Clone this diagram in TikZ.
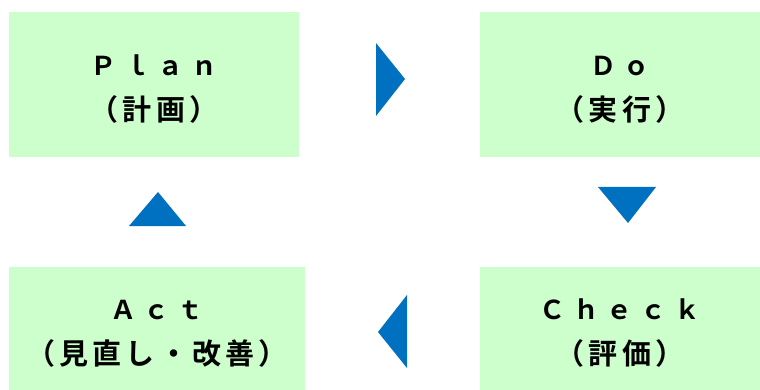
\documentclass[tikz,border=0pt]{standalone}
\usepackage{fontspec}
\newfontfamily\jpfont{Noto Sans CJK JP}[BoldFont={* Bold}]
\definecolor{stagegreen}{HTML}{CCFFCC}
\definecolor{markblue}{HTML}{0070C0}
\newcommand\spread[1]{\rule{0pt}{30pt}{\addfontfeature{LetterSpace=29}#1}}
\newcommand\jpline[1]{{\fontsize{29}{45}\selectfont\addfontfeature{LetterSpace=14}#1}}
\tikzset{
  stage/.style={fill=stagegreen, align=center, inner sep=0pt,
    font=\jpfont\bfseries\fontsize{26}{45}\selectfont},
  marker/.style={fill=markblue},
}
\begin{document}
\begin{tikzpicture}[x=1pt, y=-1pt]
    \useasboundingbox (0,0) rectangle (760,390);
    % the four stages
    \node[stage, minimum width=290pt, minimum height=145pt] (plan) at (154,84.5)
        {\spread{Ｐｌａｎ}\\\jpline{（計画）}};
    \node[stage, minimum width=280pt, minimum height=145pt] (do) at (620,84.5)
        {\spread{Ｄｏ}\\\jpline{（実行）}};
    \node[stage, minimum width=280pt, minimum height=123pt] (check) at (620,328.5)
        {\spread{Ｃｈｅｃｋ}\\\jpline{（評価）}};
    \node[stage, minimum width=296pt, minimum height=123pt] (act) at (157,328.5)
        {\spread{Ａｃｔ}\\\jpline{（見直し・改善）}};
    % the arrows between them
    \fill[marker] (376,43) -- (405,79) -- (376,116) -- cycle;
    \fill[marker] (598,187) -- (656,187) -- (628,223) -- cycle;
    \fill[marker] (407,295) -- (378,332) -- (407,368) -- cycle;
    \fill[marker] (129,226) -- (158,192) -- (186,226) -- cycle;
\end{tikzpicture}
\end{document}
